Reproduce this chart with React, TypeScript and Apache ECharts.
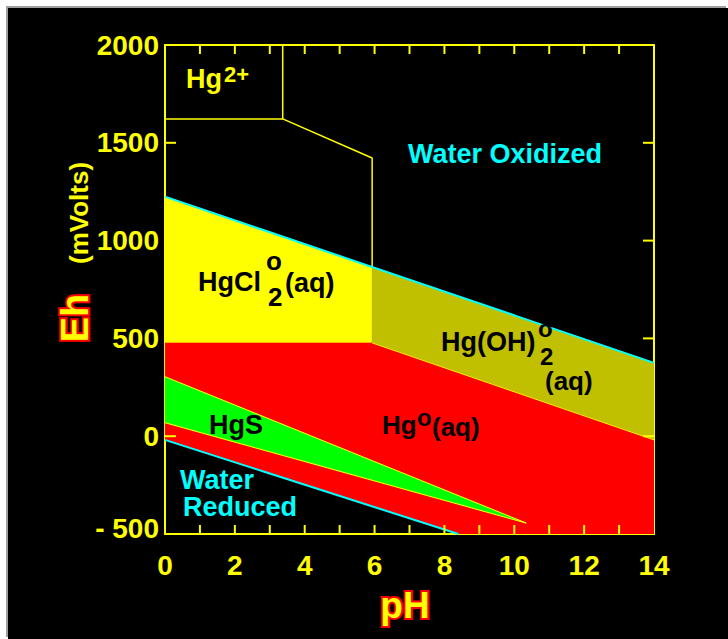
import React, { useEffect, useRef } from 'react';
import * as echarts from 'echarts';

// ---- data (pH, Eh in mV) ----
const PH_RANGE = [0, 14];
const EH_RANGE = [-500, 2000];
const EH_TICK_STEP = 500;
const PH_TICKS = [1, 2, 3, 4, 5, 6, 7, 8, 9, 10, 11, 12, 13];
const EH_TICKS = [0, 500, 1000, 1500];

const WATER_OXIDIZED = [[0, 1225], [14, 375]];
const WATER_REDUCED = [[0, -19], [8.4, -500]];
const HG2_BOUNDARY = [[0, 1622], [3.37, 1622], [5.93, 1422], [5.93, 865]];
const HG2_TOP_EDGE = [[3.37, 2000], [3.37, 1622]];
const HG0_HGOH2_EDGE = [[5.93, 477], [14, -19]];
const HGS_UPPER = [[0, 304], [10.34, -444]];
const HGS_LOWER = [[0, 69], [10.34, -444]];

const HGCL2_AREA = [[0, 1225], [5.93, 865], [5.93, 477], [0, 477]];
const HGOH2_AREA = [[5.93, 865], [14, 375], [14, -19], [5.93, 477]];
const HG0_AREA = [[0, 477], [5.93, 477], [14, -19], [14, -500], [8.4, -500], [0, -19]];
const HGS_AREA = [[0, 304], [10.34, -444], [0, 69]];

// ---- styles ----
const YELLOW = '#ffff00';
const CYAN = '#00ffff';
const FONT = "'Liberation Sans', Arial, sans-serif";

const AREAS = [
  { pts: HGCL2_AREA, color: '#ffff00' },
  { pts: HGOH2_AREA, color: '#c0c000' },
  { pts: HG0_AREA, color: '#ff0000' },
  { pts: HGS_AREA, color: '#00ff00' },
];

const LINES = [
  { pts: HG0_HGOH2_EDGE, color: YELLOW, width: 1 },
  { pts: HGS_UPPER, color: YELLOW, width: 1 },
  { pts: HGS_LOWER, color: YELLOW, width: 1 },
  { pts: HG2_BOUNDARY, color: YELLOW, width: 1.5 },
  { pts: HG2_TOP_EDGE, color: YELLOW, width: 1.5 },
  { pts: WATER_OXIDIZED, color: CYAN, width: 2 },
  { pts: WATER_REDUCED, color: CYAN, width: 2 },
];

const X_TICK_LEN = 9;
const Y_TICK_LEN = 11;

function txt(text: string, x: number, y: number, color: string, size: number) {
  return {
    type: 'text',
    x,
    y,
    z: 50,
    silent: true,
    style: {
      text,
      fill: color,
      font: `bold ${size}px ${FONT}`,
      align: 'left',
      verticalAlign: 'middle',
    },
  };
}

function outlined(text: string, x: number, y: number, size: number, rotation: number) {
  const base = {
    text,
    font: `bold ${size}px ${FONT}`,
    align: 'center',
    verticalAlign: 'middle',
  };
  return [
    { type: 'text', x, y, rotation, z: 50, silent: true, style: { ...base, fill: '#ff0000', stroke: '#ff0000', lineWidth: 4 } },
    { type: 'text', x, y, rotation, z: 51, silent: true, style: { ...base, fill: YELLOW } },
  ];
}

const TEXTS: any[] = [
  txt('Hg', 178, 71, YELLOW, 27),
  txt('2+', 216, 66, YELLOW, 22),
  txt('Water Oxidized', 400, 146, CYAN, 27),
  txt('HgCl', 190, 274, '#000', 27),
  txt('o', 258, 253, '#000', 26),
  txt('2', 260, 289, '#000', 26),
  txt('(aq)', 277, 275, '#000', 27),
  txt('Hg(OH)', 433, 334, '#000', 27),
  txt('o', 530, 320, '#000', 24),
  txt('2', 532, 348, '#000', 24),
  txt('(aq)', 537, 373, '#000', 26),
  txt('HgS', 201, 417, '#000', 27),
  txt('Hg', 374, 417, '#000', 26),
  txt('o', 409, 409, '#000', 24),
  txt('(aq)', 424, 419, '#000', 26),
  txt('Water', 172, 472, CYAN, 27),
  txt('Reduced', 175, 499, CYAN, 27),
  ...outlined('Eh', 67, 310, 38, Math.PI / 2),
  {
    type: 'text', x: 71, y: 205, rotation: Math.PI / 2, z: 50, silent: true,
    style: { text: '(mVolts)', fill: YELLOW, font: `bold 26px ${FONT}`, align: 'center', verticalAlign: 'middle' },
  },
  ...outlined('pH', 397, 597, 37, 0),
];

const axisLine = { show: true, onZero: false, lineStyle: { color: YELLOW, width: 2 } };

// tick-mark series: side = 'bottom' | 'top' | 'left' | 'right'
function tickSeries(side: string) {
  const isX = side === 'bottom' || side === 'top';
  const values = isX ? PH_TICKS : EH_TICKS;
  return {
    type: 'custom',
    xAxisIndex: 0,
    yAxisIndex: 0,
    clip: true,
    silent: true,
    z: 6,
    data: values.map((v) => (isX ? [v, 0] : [1, v])),
    renderItem: (params: any, api: any) => {
      const v = values[params.dataIndex];
      let pts: number[][];
      if (isX) {
        const p = api.coord([v, side === 'bottom' ? EH_RANGE[0] : EH_RANGE[1]]);
        const d = side === 'bottom' ? -X_TICK_LEN : X_TICK_LEN;
        pts = [[p[0] - 1, p[1]], [p[0] + 1, p[1]], [p[0] + 1, p[1] + d], [p[0] - 1, p[1] + d]];
      } else {
        const p = api.coord([side === 'left' ? PH_RANGE[0] : PH_RANGE[1], v]);
        const d = side === 'left' ? Y_TICK_LEN : -Y_TICK_LEN;
        pts = [[p[0], p[1] - 1], [p[0] + d, p[1] - 1], [p[0] + d, p[1] + 1], [p[0], p[1] + 1]];
      }
      return { type: 'polygon', shape: { points: pts }, style: { fill: YELLOW } };
    },
  };
}

export default function App() {
  const ref = useRef<HTMLDivElement>(null);
  useEffect(() => {
    const chart = echarts.init(ref.current!, null, { renderer: 'svg' });
    const labelStyle = { color: YELLOW, fontSize: 28, fontWeight: 'bold', fontFamily: FONT };
    const option: any = {
      animation: false,
      backgroundColor: '#000000',
      grid: { left: 157, top: 37, width: 489, height: 489 },
      xAxis: [
        {
          type: 'value', position: 'bottom', min: PH_RANGE[0], max: PH_RANGE[1], interval: 1,
          axisLine,
          axisTick: { show: false },
          axisLabel: { ...labelStyle, margin: 17, formatter: (v: number) => (v % 2 === 0 ? String(v) : '') },
          splitLine: { show: false },
        },
        {
          type: 'value', position: 'top', min: PH_RANGE[0], max: PH_RANGE[1], interval: 1,
          axisLine,
          axisTick: { show: false },
          axisLabel: { show: false },
          splitLine: { show: false },
        },
      ],
      yAxis: [
        {
          type: 'value', position: 'left', min: EH_RANGE[0], max: EH_RANGE[1], interval: EH_TICK_STEP,
          axisLine,
          axisTick: { show: false },
          axisLabel: {
            ...labelStyle,
            margin: 6,
            formatter: (v: number) => (v < 0 ? '{n|- ' + Math.abs(v) + '}' : String(v)),
            rich: { n: { ...labelStyle, padding: [0, 0, 12, 0] } },
          },
          splitLine: { show: false },
        },
        {
          type: 'value', position: 'right', min: EH_RANGE[0], max: EH_RANGE[1], interval: EH_TICK_STEP,
          axisLine,
          axisTick: { show: false },
          axisLabel: { show: false },
          splitLine: { show: false },
        },
      ],
      series: [
        {
          type: 'custom',
          xAxisIndex: 0,
          yAxisIndex: 0,
          clip: true,
          silent: true,
          z: 1,
          data: AREAS.map((a) => a.pts[0]),
          renderItem: (params: any, api: any) => {
            const a = AREAS[params.dataIndex];
            return {
              type: 'polygon',
              shape: { points: a.pts.map((p) => api.coord(p)) },
              style: { fill: a.color, stroke: a.color, lineWidth: 0.5 },
            };
          },
        },
        tickSeries('bottom'),
        tickSeries('top'),
        tickSeries('left'),
        tickSeries('right'),
        ...LINES.map((l) => ({
          type: 'line',
          xAxisIndex: 0,
          yAxisIndex: 0,
          data: l.pts,
          showSymbol: false,
          symbol: 'none',
          silent: true,
          z: 3,
          lineStyle: { color: l.color, width: l.width },
        })),
      ],
      graphic: TEXTS,
    };
    chart.setOption(option);
    return () => chart.dispose();
  }, []);
  return (
    <div
      ref={ref}
      style={{ position: 'fixed', left: 8, top: 8, width: 720, height: 631, boxShadow: '-2px -2px 0 0 #a0a0a0' }}
    />
  );
}
